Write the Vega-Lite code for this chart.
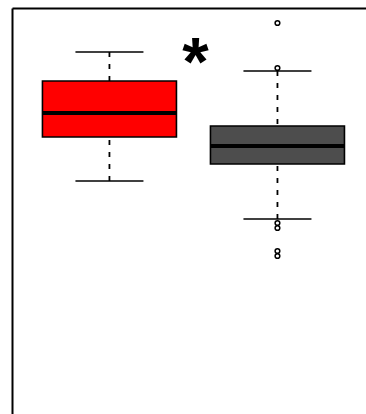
{
  "$schema": "https://vega.github.io/schema/vega-lite/v6.json",
  "width": 354,
  "height": 406,
  "padding": {"left": 12, "top": 8, "right": 0, "bottom": 0},
  "autosize": {"type": "none"},
  "background": "white",
  "datasets": {
    "stats": [
      {"group": "Group 1", "pos": 1, "lower": 233, "q1": 277, "median": 301, "q3": 333, "upper": 362},
      {"group": "Group 2", "pos": 2, "lower": 195, "q1": 250, "median": 268, "q3": 288, "upper": 343}
    ],
    "outliers": [
      {"group": "Group 2", "pos": 2, "value": 391},
      {"group": "Group 2", "pos": 2, "value": 346},
      {"group": "Group 2", "pos": 2, "value": 191},
      {"group": "Group 2", "pos": 2, "value": 186},
      {"group": "Group 2", "pos": 2, "value": 163},
      {"group": "Group 2", "pos": 2, "value": 158}
    ],
    "annot": [{"pos": 1.5, "value": 362, "label": "*"}]
  },
  "encoding": {
    "x": {"field": "pos", "type": "quantitative", "scale": {"domain": [0.42, 2.527], "nice": false, "zero": false, "padding": 0}, "axis": {"orient": "top", "title": null}}
  },
  "layer": [
    {
      "data": {"name": "stats"},
      "mark": {"type": "rule", "strokeDash": [5, 7], "strokeWidth": 1.8, "color": "black"},
      "encoding": {
        "y": {"field": "upper", "type": "quantitative", "scale": {"domain": [0, 406], "nice": false, "zero": false, "padding": 0}, "axis": {"title": null}},
        "y2": {"field": "q3"}
      }
    },
    {
      "data": {"name": "stats"},
      "mark": {"type": "rule", "strokeDash": [5, 7], "strokeWidth": 1.8, "color": "black"},
      "encoding": {
        "y": {"field": "lower", "type": "quantitative", "axis": {"title": null}},
        "y2": {"field": "q1"}
      }
    },
    {
      "data": {"name": "stats"},
      "mark": {"type": "bar", "width": 134, "stroke": "black", "strokeWidth": 1.6},
      "encoding": {
        "y": {"field": "q1", "type": "quantitative", "axis": {"title": null}},
        "y2": {"field": "q3"},
        "color": {"field": "group", "type": "nominal", "scale": {"domain": ["Group 1", "Group 2"], "range": ["#FF0000", "#4D4D4D"]}, "legend": null}
      }
    },
    {
      "data": {"name": "stats"},
      "mark": {"type": "tick", "orient": "horizontal", "size": 134, "thickness": 4, "color": "black", "opacity": 1},
      "encoding": {
        "y": {"field": "median", "type": "quantitative", "axis": {"title": null}}
      }
    },
    {
      "data": {"name": "stats"},
      "mark": {"type": "tick", "orient": "horizontal", "size": 68, "thickness": 1.5, "color": "black", "opacity": 1},
      "encoding": {
        "y": {"field": "upper", "type": "quantitative", "axis": {"title": null}}
      }
    },
    {
      "data": {"name": "stats"},
      "mark": {"type": "tick", "orient": "horizontal", "size": 68, "thickness": 1.5, "color": "black", "opacity": 1},
      "encoding": {
        "y": {"field": "lower", "type": "quantitative", "axis": {"title": null}}
      }
    },
    {
      "data": {"name": "outliers"},
      "mark": {"type": "point", "shape": "circle", "filled": false, "size": 22, "strokeWidth": 1.5, "color": "black", "opacity": 1},
      "encoding": {
        "y": {"field": "value", "type": "quantitative", "axis": {"title": null}}
      }
    },
    {
      "data": {"name": "annot"},
      "mark": {"type": "text", "font": "Liberation Sans", "fontWeight": "bold", "fontSize": 68, "align": "center", "baseline": "middle", "dy": 13, "dx": 2, "color": "black"},
      "encoding": {
        "y": {"field": "value", "type": "quantitative", "axis": {"title": null}},
        "text": {"field": "label"}
      }
    }
  ],
  "config": {
    "view": {"stroke": null},
    "axis": {"domainColor": "black", "domainWidth": 2, "ticks": false, "labels": false, "grid": false}
  }
}
